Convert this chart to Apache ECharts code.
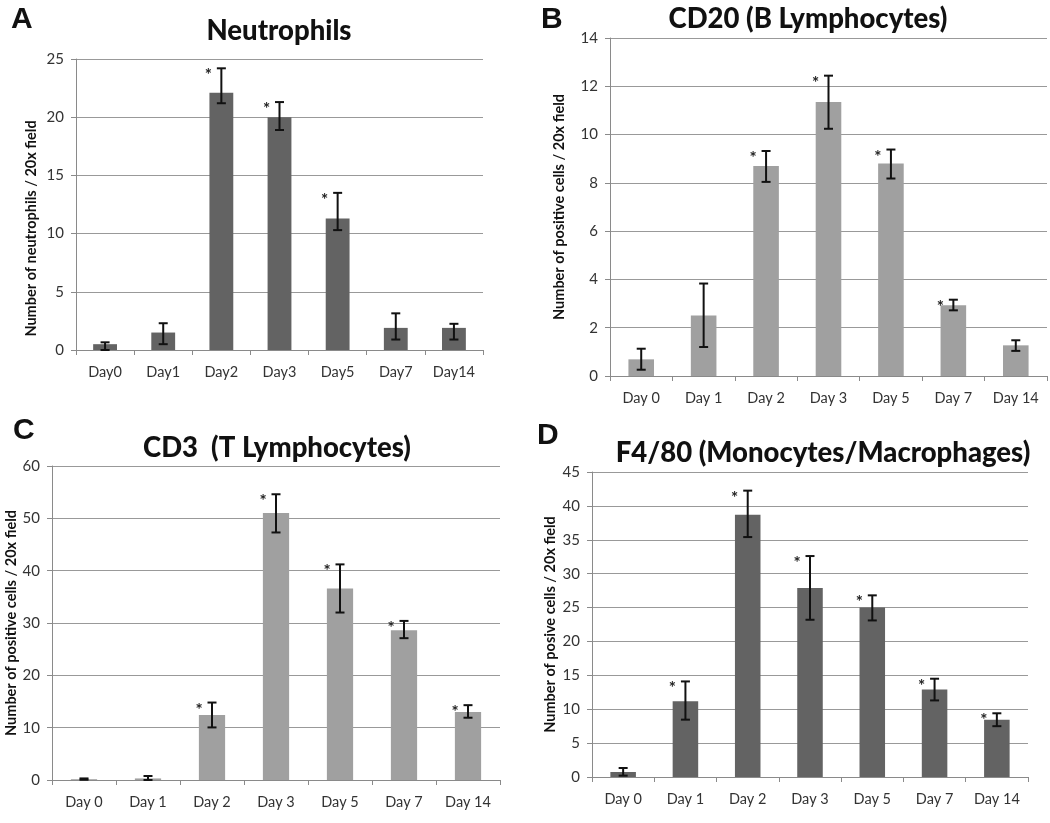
<!DOCTYPE html>
<html>
<head>
<meta charset="utf-8">
<script src="https://cdn.jsdelivr.net/npm/echarts@6/dist/echarts.min.js"></script>
<style>
  html, body { margin: 0; padding: 0; background: #fff; }
  #main { width: 1050px; height: 823px; }
</style>
</head>
<body>
<div id="main"></div>
<script>
// categories
const daysA = ['Day0', 'Day1', 'Day2', 'Day3', 'Day5', 'Day7', 'Day14'];
const days = ['Day 0', 'Day 1', 'Day 2', 'Day 3', 'Day 5', 'Day 7', 'Day 14'];

// A - neutrophils
const neutroMean = [0.5, 1.5, 22.1, 20.0, 11.3, 1.9, 1.9];
const neutroLow = [0.0, 0.5, 21.2, 18.9, 10.3, 0.9, 0.9];
const neutroHigh = [0.66, 2.3, 24.2, 21.3, 13.5, 3.15, 2.25];
const neutroStar = [0, 0, 1, 1, 1, 0, 0];

// B - CD20
const cd20Mean = [0.69, 2.51, 8.7, 11.35, 8.8, 2.93, 1.27];
const cd20Low = [0.26, 1.2, 8.04, 10.24, 8.18, 2.72, 1.04];
const cd20High = [1.13, 3.83, 9.32, 12.44, 9.38, 3.16, 1.48];
const cd20Star = [0, 0, 1, 1, 1, 1, 0];

// C - CD3
const cd3Mean = [0.15, 0.3, 12.4, 51.0, 36.6, 28.6, 13.0];
const cd3Low = [0.05, 0.0, 10.05, 47.3, 32.0, 27.1, 11.9];
const cd3High = [0.3, 0.76, 14.8, 54.6, 41.2, 30.4, 14.3];
const cd3Star = [0, 0, 1, 1, 1, 1, 1];

// D - F4/80
const f480Mean = [0.74, 11.16, 38.7, 27.9, 25.0, 12.9, 8.46];
const f480Low = [0.2, 8.46, 35.4, 23.2, 23.1, 11.3, 7.5];
const f480High = [1.33, 14.1, 42.25, 32.6, 26.8, 14.5, 9.4];
const f480Star = [0, 1, 1, 1, 1, 1, 1];

// y tick settings
const yMaxA = 25, yStepA = 5;
const yMaxB = 14, yStepB = 2;
const yMaxC = 60, yStepC = 10;
const yMaxD = 45, yStepD = 5;

const FONT = 'Lato';

let chart = echarts.init(document.getElementById('main'));

function errData(low, high, star) {
    return low.map((l, i) => [i, l, high[i], star[i]]);
}

function renderErr(params, api) {
    let lo = api.coord([api.value(0), api.value(1)]);
    let hi = api.coord([api.value(0), api.value(2)]);
    let cap = 4.5;
    let st = { stroke: '#111', lineWidth: 2 };
    let children = [
        { type: 'line', shape: { x1: lo[0], y1: lo[1], x2: hi[0], y2: hi[1] }, style: st },
        { type: 'line', shape: { x1: lo[0] - cap, y1: lo[1], x2: lo[0] + cap, y2: lo[1] }, style: st },
        { type: 'line', shape: { x1: hi[0] - cap, y1: hi[1], x2: hi[0] + cap, y2: hi[1] }, style: st }
    ];
    if (api.value(3)) {
        children.push({
            type: 'text',
            style: { text: '*', x: hi[0] - 13, y: hi[1] - 1, fill: '#222', font: 'bold 17px ' + FONT, align: 'center', verticalAlign: 'top' }
        });
    }
    return { type: 'group', children: children };
}

function xAx(idx, cats) {
    return {
        type: 'category', gridIndex: idx, data: cats,
        axisLine: { lineStyle: { color: '#8a8a8a', width: 1 } },
        axisTick: { show: true, alignWithLabel: false, length: 5, lineStyle: { color: '#8a8a8a' } },
        axisLabel: { color: '#333', fontFamily: FONT, fontSize: 14.5, margin: 15 },
        splitLine: { show: false }
    };
}

function yAx(idx, max, step, name, gap, pad) {
    return {
        type: 'value', gridIndex: idx, min: 0, max: max, interval: step,
        name: name, nameLocation: 'middle', nameGap: gap,
        nameTextStyle: { color: '#111', fontFamily: FONT, fontWeight: 'bold', fontSize: 14.5, padding: pad },
        axisLine: { show: true, lineStyle: { color: '#8a8a8a', width: 1 } },
        axisTick: { show: true, length: 5, lineStyle: { color: '#8a8a8a' } },
        axisLabel: { color: '#333', fontFamily: FONT, fontSize: 15, margin: 12 },
        splitLine: { show: true, lineStyle: { color: '#999', width: 1.2 } }
    };
}

function barS(idx, data, color) {
    return {
        type: 'bar', xAxisIndex: idx, yAxisIndex: idx, data: data,
        barWidth: '41%', itemStyle: { color: color }, silent: true
    };
}

function errS(idx, low, high, star) {
    return {
        type: 'custom', xAxisIndex: idx, yAxisIndex: idx,
        data: errData(low, high, star), renderItem: renderErr, silent: true, z: 5
    };
}

const titleStyle = { color: '#111', fontFamily: FONT, fontWeight: 900, fontSize: 27.5 };
const letterStyle = { color: '#111', fontFamily: 'Liberation Sans', fontWeight: 'bold', fontSize: 30 };

chart.setOption({
    animation: false,
    backgroundColor: '#fff',
    title: [
        { text: 'A', left: 6, top: 0, textStyle: letterStyle },
        { text: 'Neutrophils', left: 274, top: 12, textAlign: 'center', textStyle: titleStyle },
        { text: 'B', left: 536, top: 0, textStyle: letterStyle },
        { text: 'CD20 (B Lymphocytes)', left: 803, top: 0, textAlign: 'center', textStyle: titleStyle },
        { text: 'C', left: 8, top: 411, textStyle: letterStyle },
        { text: 'CD3  (T Lymphocytes)', left: 272, top: 429, textAlign: 'center', textStyle: titleStyle },
        { text: 'D', left: 532, top: 416, textStyle: letterStyle },
        { text: 'F4/80 (Monocytes/Macrophages)', left: 818, top: 434, textAlign: 'center', textStyle: titleStyle }
    ],
    grid: [
        { left: 76, right: 567, top: 59, bottom: 473 },
        { left: 610, right: 3, top: 38, bottom: 447 },
        { left: 52, right: 550, top: 466, bottom: 43 },
        { left: 592, right: 22, top: 472, bottom: 46 }
    ],
    xAxis: [xAx(0, daysA), xAx(1, days), xAx(2, days), xAx(3, days)],
    yAxis: [
        yAx(0, yMaxA, yStepA, 'Number of neutrophils / 20x field', 37, [0, 48, 0, 0]),
        yAx(1, yMaxB, yStepB, 'Number of positive cells / 20x field', 43, 0),
        yAx(2, yMaxC, yStepC, 'Number of positive cells / 20x field', 30, 0),
        yAx(3, yMaxD, yStepD, 'Number of posive cells / 20x field', 34, 0)
    ],
    series: [
        barS(0, neutroMean, '#636363'), errS(0, neutroLow, neutroHigh, neutroStar),
        barS(1, cd20Mean, '#a0a0a0'), errS(1, cd20Low, cd20High, cd20Star),
        barS(2, cd3Mean, '#a0a0a0'), errS(2, cd3Low, cd3High, cd3Star),
        barS(3, f480Mean, '#636363'), errS(3, f480Low, f480High, f480Star)
    ]
});
</script>
</body>
</html>
